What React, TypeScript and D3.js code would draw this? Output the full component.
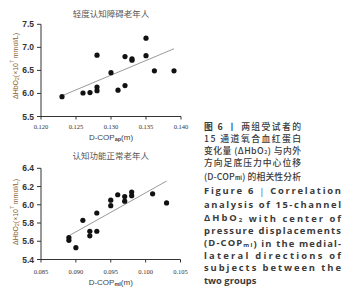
import React from "react";
import * as d3 from "d3";

// ---- data ----
const topTitle = "轻度认知障碍老年人";
const bottomTitle = "认知功能正常老年人";

const topX = [0.123, 0.126, 0.127, 0.128, 0.128, 0.128, 0.130, 0.131, 0.132, 0.132, 0.133, 0.133, 0.135, 0.135, 0.1362, 0.139];
const topY = [5.93, 6.01, 6.02, 6.83, 6.14, 6.06, 6.45, 6.07, 6.80, 6.17, 6.75, 6.72, 7.20, 6.82, 6.49, 6.49];
const topFitX = [0.123, 0.139];
const topFitY = [5.95, 6.97];
const topXTicks = [0.120, 0.125, 0.130, 0.135, 0.140];
const topYTicks = [5.5, 6.0, 6.5, 7.0, 7.5];

const botX = [0.089, 0.089, 0.090, 0.091, 0.092, 0.092, 0.093, 0.093, 0.095, 0.095, 0.096, 0.097, 0.097, 0.098, 0.098, 0.101, 0.103];
const botY = [5.64, 5.61, 5.53, 5.83, 5.71, 5.66, 5.91, 5.71, 6.05, 5.99, 6.11, 6.09, 6.04, 6.14, 6.10, 6.12, 6.02];
const botFitX = [0.089, 0.103];
const botFitY = [5.66, 6.26];
const botXTicks = [0.085, 0.090, 0.095, 0.100, 0.105];
const botYTicks = [5.4, 5.6, 5.8, 6.0, 6.2, 6.4];

const enLines = [
  "Figure 6 | Correlation",
  "analysis of 15-channel",
  "ΔHbO₂ with center of",
  "pressure displacements",
  "(D-COP_ml) in the medial-",
  "lateral directions of",
  "subjects between the",
  "two groups",
];

const TXT = "#3a3a3a";

function Panel({ title, xs, ys, fx, fy, xTicks, yTicks, xDom, yDom, x0, x1, yTop, yBot, titleY, xTickY, xLabY, sub, yFmt, labY }: any) {
  const x = d3.scaleLinear().domain(xDom).range([x0, x1]);
  const y = d3.scaleLinear().domain(yDom).range([yBot, yTop]);
  const line = d3.line<number>().x((_, i) => x(fx[i])).y((_, i) => y(fy[i]));
  return (
    <g>
      <text x={(x0 + x1) / 2} y={titleY} textAnchor="middle" dominantBaseline="central" fontFamily="Noto Sans CJK SC" fontSize={8.5} fill="#555">{title}</text>
      <line x1={x0} x2={x0} y1={yTop} y2={yBot} stroke="#333" strokeWidth={1} />
      <line x1={x0} x2={x1} y1={yBot} y2={yBot} stroke="#333" strokeWidth={1} />
      {yTicks.map((t: number) => (
        <g key={t}>
          <line x1={x0 - 4} x2={x0} y1={y(t)} y2={y(t)} stroke="#333" />
          <text x={x0 - 7} y={y(t)} textAnchor="end" dominantBaseline="central" fontFamily="Liberation Sans" fontWeight="bold" fontSize={8.5} fill="#333">{yFmt(t)}</text>
        </g>
      ))}
      {xTicks.map((t: number) => (
        <g key={t}>
          <line x1={x(t)} x2={x(t)} y1={yBot} y2={yBot + 3} stroke="#333" />
          <text x={x(t)} y={xTickY} textAnchor="middle" dominantBaseline="central" fontFamily="Liberation Serif" fontSize={6.5} fill="#333">{d3.format(".3f")(t)}</text>
        </g>
      ))}
      <text transform={`translate(15,${labY}) rotate(-90)`} textAnchor="middle" dominantBaseline="central" fontFamily="Liberation Sans" fontSize={7} fill="#8a5a1a">
        ΔHbO<tspan fontSize={5} dy={2}>2</tspan><tspan dy={-2}>(×10</tspan><tspan fontSize={5} dy={-3}>7</tspan><tspan dy={3}> mmol/L)</tspan>
      </text>
      <text x={(x0 + x1) / 2} y={xLabY} textAnchor="middle" dominantBaseline="central" fontFamily="Liberation Sans" fontSize={8} fill="#444">
        D-COP<tspan fontSize={5.5} fontWeight="bold" dy={2}>{sub}</tspan><tspan dy={-2}>(m)</tspan>
      </text>
      <path d={line(fx) || ""} fill="none" stroke="#9a9a9a" strokeWidth={1} />
      {xs.map((v: number, i: number) => (
        <circle key={i} cx={x(v)} cy={y(ys[i])} r={2.6} fill="#111" />
      ))}
    </g>
  );
}

function EnLine({ s, yy, justify }: any) {
  const parts: any[] = [];
  if (s.includes("_ml")) {
    const [a, b] = s.split("_ml");
    parts.push(a, <tspan key="s" fontSize={6} dy={2}>ml</tspan>, <tspan key="r" dy={-2}>{b}</tspan>);
  } else if (s.startsWith("Figure 6")) {
    parts.push("Figure 6 ", <tspan key="b" fill="#2a64b0" fontWeight="normal">|</tspan>, " Correlation");
  } else if (s.includes("₂")) {
    const [a, b] = s.split("₂");
    parts.push(a, <tspan key="s" fontSize={6} dy={2}>2</tspan>, <tspan key="r" dy={-2}>{b}</tspan>);
  } else parts.push(s);
  return (
    <text x={204} y={yy} dominantBaseline="central" fontFamily="Open Sans" fontWeight="bold" fontSize={9.4} fill={TXT}
      {...(justify ? { textLength: 137, lengthAdjust: "spacing" } : {})}>
      {parts}
    </text>
  );
}

export default function App() {
  const cnY = [126, 138.3, 150.3, 162.3, 176];
  const enY = [190.5, 204.5, 217.5, 230, 242.5, 255, 267.5, 280];
  const cnProps = { x: 204, dominantBaseline: "central", fontFamily: "Noto Sans CJK SC", fontWeight: 500, fontSize: 8.8, fill: TXT, textLength: 97, lengthAdjust: "spacing" } as any;
  return (
    <div style={{ position: "absolute", left: 0, top: 0 }}>
      <svg width={346} height={300} style={{ display: "block", background: "#fff" }}>
        <Panel title={topTitle} xs={topX} ys={topY} fx={topFitX} fy={topFitY} xTicks={topXTicks} yTicks={topYTicks}
          xDom={[0.12, 0.14]} yDom={[5.5, 7.5]} x0={41} x1={181} yTop={24.3} yBot={116.5} titleY={12.7} xTickY={126} xLabY={137} sub="ap" yFmt={d3.format(".1f")} labY={66} />
        <Panel title={bottomTitle} xs={botX} ys={botY} fx={botFitX} fy={botFitY} xTicks={botXTicks} yTicks={botYTicks}
          xDom={[0.085, 0.105]} yDom={[5.4, 6.4]} x0={41} x1={180.5} yTop={168.3} yBot={259.5} titleY={154.5} xTickY={271} xLabY={282} sub="ml" yFmt={d3.format(".1f")} labY={212} />
        <text {...cnProps} y={cnY[0]}><tspan fontWeight="bold">图 6 </tspan><tspan fill="#2a64b0" fontWeight="bold">丨</tspan> 两组受试者的</text>
        <text {...cnProps} y={cnY[1]}>15 通道氧合血红蛋白</text>
        <text {...cnProps} y={cnY[2]}>变化量 (ΔHbO<tspan fontSize={5.5} dy={2}>2</tspan><tspan dy={-2}>) 与内外</tspan></text>
        <text {...cnProps} y={cnY[3]}>方向足底压力中心位移</text>
        <text {...cnProps} y={cnY[4]}>(D-COP<tspan fontSize={5.5} fontWeight="bold" dy={2}>ml</tspan><tspan dy={-2}>) 的相关性分析</tspan></text>
        {enLines.map((s, i) => (
          <EnLine key={i} s={s} yy={enY[i]} justify={i < enLines.length - 1} />
        ))}
      </svg>
    </div>
  );
}
